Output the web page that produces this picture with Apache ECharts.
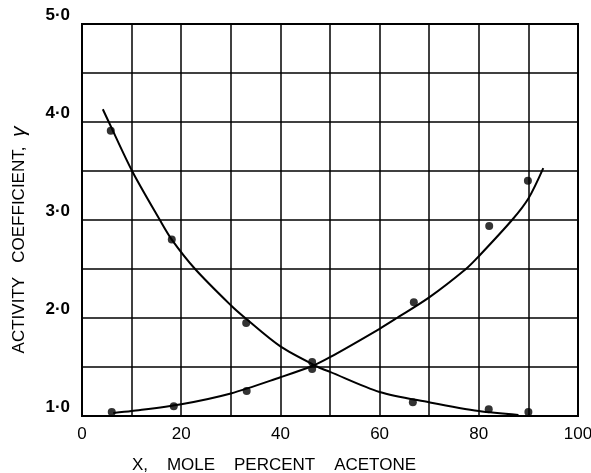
<!DOCTYPE html>
<html>
<head>
<meta charset="utf-8">
<script src="https://cdn.jsdelivr.net/npm/echarts@6/dist/echarts.min.js"></script>
<style>html,body{margin:0;padding:0;background:#fff;}#c{width:591px;height:473px;}</style>
</head>
<body>
<div id="c"></div>
<script>
// Fitted curve (decreasing)
var downCurveX = [4.2, 5.4, 10.1, 15.7, 18.1, 22.8, 30, 32.9, 40, 47.6, 50, 60, 70, 80, 88];
var downCurveY = [4.13, 4.0, 3.5, 3.0, 2.80, 2.5, 2.13, 2.0, 1.71, 1.5, 1.45, 1.245, 1.14, 1.05, 1.01];
// Fitted curve (increasing)
var upCurveX = [6.3, 10, 20, 30, 40, 46.4, 50, 60, 63.5, 70, 77.4, 80, 86.7, 90, 93];
var upCurveY = [1.03, 1.05, 1.12, 1.23, 1.395, 1.51, 1.60, 1.89, 2.0, 2.21, 2.5, 2.63, 3.0, 3.22, 3.53];
// Measured points
var downPtsX = [5.8, 18.1, 33.1, 46.4, 66.7, 82.0, 90.0];
var downPtsY = [3.91, 2.80, 1.95, 1.55, 1.14, 1.07, 1.04];
var upPtsX = [6.0, 18.5, 33.2, 46.4, 66.9, 82.1, 89.9];
var upPtsY = [1.04, 1.10, 1.255, 1.48, 2.16, 2.94, 3.40];
// Tick labels
var xTickLabels = {0: '0', 20: '20', 40: '40', 60: '60', 80: '80', 100: '100'};
var yTickLabels = {1: '1·0', 2: '2·0', 3: '3·0', 4: '4·0', 5: '5·0'};

function zip(a, b) { return a.map(function (v, i) { return [v, b[i]]; }); }

var font = "'Liberation Sans', Arial, sans-serif";
var chart = echarts.init(document.getElementById('c'), null, {renderer: 'canvas'});
chart.setOption({
  backgroundColor: '#fff',
  animation: false,
  grid: {left: 82, top: 24, width: 496, height: 392, containLabel: false, outerBoundsMode: 'none',
         show: true, borderColor: '#000', borderWidth: 2, backgroundColor: 'transparent'},
  xAxis: {
    type: 'value', min: 0, max: 100, interval: 10,
    name: 'X,    MOLE    PERCENT    ACETONE',
    nameLocation: 'middle', nameGap: 41,
    nameTextStyle: {fontFamily: font, fontSize: 17, color: '#000', padding: [0, 112, 0, 0]},
    axisLine: {show: true, lineStyle: {color: '#000', width: 2}},
    axisTick: {show: false},
    axisLabel: {
      margin: 10, fontFamily: font, fontSize: 17, color: '#000',
      formatter: function (v) { return xTickLabels[v] !== undefined ? xTickLabels[v] : ''; }
    },
    splitLine: {show: true, lineStyle: {color: '#000', width: 1.5}}
  },
  yAxis: {
    type: 'value', min: 1, max: 5, interval: 0.5,
    name: 'ACTIVITY   COEFFICIENT,  {g|γ}',
    nameLocation: 'middle', nameGap: 52, nameRotate: 90,
    nameTextStyle: {fontFamily: font, fontSize: 17, color: '#000', padding: [0, 40, 0, 0],
      rich: {g: {fontFamily: font, fontSize: 21, fontStyle: 'italic', color: '#000'}}},
    axisLine: {show: true, lineStyle: {color: '#000', width: 2}},
    axisTick: {show: false},
    axisLabel: {
      margin: 12, fontFamily: font, fontSize: 17, fontWeight: 'bold', color: '#000', verticalAlign: 'bottom',
      formatter: function (v) { return yTickLabels[v] !== undefined ? yTickLabels[v] : ''; }
    },
    splitLine: {show: true, lineStyle: {color: '#000', width: 1.5}}
  },
  series: [
    {type: 'line', data: zip(downCurveX, downCurveY), smooth: 0.3, showSymbol: false, symbol: 'none',
     lineStyle: {color: '#000', width: 2}, z: 3},
    {type: 'line', data: zip(upCurveX, upCurveY), smooth: 0.3, showSymbol: false, symbol: 'none',
     lineStyle: {color: '#000', width: 2}, z: 3},
    {type: 'scatter', data: zip(downPtsX, downPtsY), symbol: 'circle', symbolSize: 8,
     itemStyle: {color: '#000'}, z: 4},
    {type: 'scatter', data: zip(upPtsX, upPtsY), symbol: 'circle', symbolSize: 8,
     itemStyle: {color: '#000'}, z: 4}
  ]
});
</script>
</body>
</html>
